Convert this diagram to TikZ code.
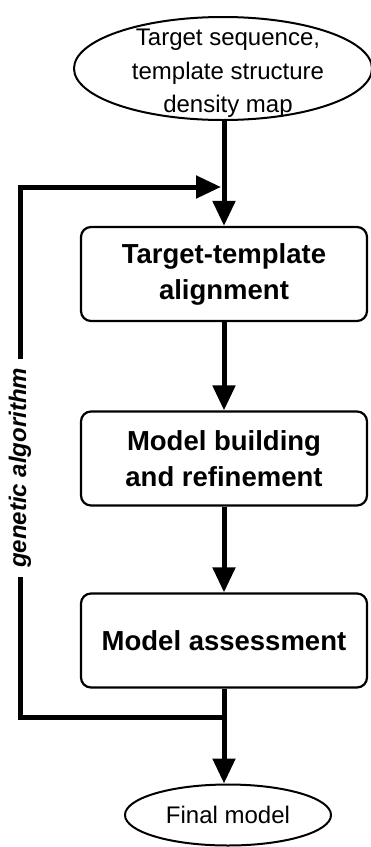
\documentclass[tikz,border=0pt]{standalone}
\usepackage{fontspec}
\setmainfont{Liberation Sans}
\usetikzlibrary{shapes.geometric,arrows.meta}

\begin{document}
\begin{tikzpicture}[x=1pt,y=-1pt,
  stage/.style={draw,line width=2.2pt,rounded corners=10pt,minimum width=286pt,minimum height=94pt,inner sep=0pt,align=center,font=\fontsize{27.5}{36}\selectfont\bfseries},
  terminal/.style={draw,ellipse,line width=2pt,inner sep=0pt},
  plain/.style={align=center,inner sep=0pt,font=\fontsize{24}{33.5}\selectfont},
  flow/.style={line width=5pt,-{Triangle[width=22pt,length=25pt]}}]
\useasboundingbox (0,0) rectangle (371,847);

% input and output
\node[terminal,minimum width=298pt,minimum height=103pt] (input) at (223,68.5) {};
\node[plain] (inputtext) at (228,73.5) {Target sequence,\\template structure\\density map};
\node[terminal,minimum width=206pt,minimum height=61pt,font=\fontsize{24}{27}\selectfont] (final) at (228,815) {Final model};

% stages
\node[stage] (align) at (224,274) {Target-template\\alignment};
\node[stage] (build) at (224,458.5) {Model building\\and refinement};
\node[stage] (assess) at (224,640.5) {Model assessment};

% loop corners
\coordinate (fork) at (224,717);
\coordinate (lowleft) at (20,717);
\coordinate (upleft) at (20,187);
\coordinate (merge) at (221,187);

\draw[flow] (align.north |- input.south) -- (align.north);
\draw[flow] (align) -- (build);
\draw[flow] (build) -- (assess);
\draw[flow] (assess.south) -- (assess.south |- final.north);
\draw[flow] (fork) -- (lowleft) -- node[pos=0.47,rotate=90,fill=white,inner xsep=9pt,inner ysep=2pt,font=\fontsize{24}{27}\selectfont\bfseries\itshape] (ga) {genetic algorithm} (upleft) -- (merge);
\end{tikzpicture}
\end{document}
